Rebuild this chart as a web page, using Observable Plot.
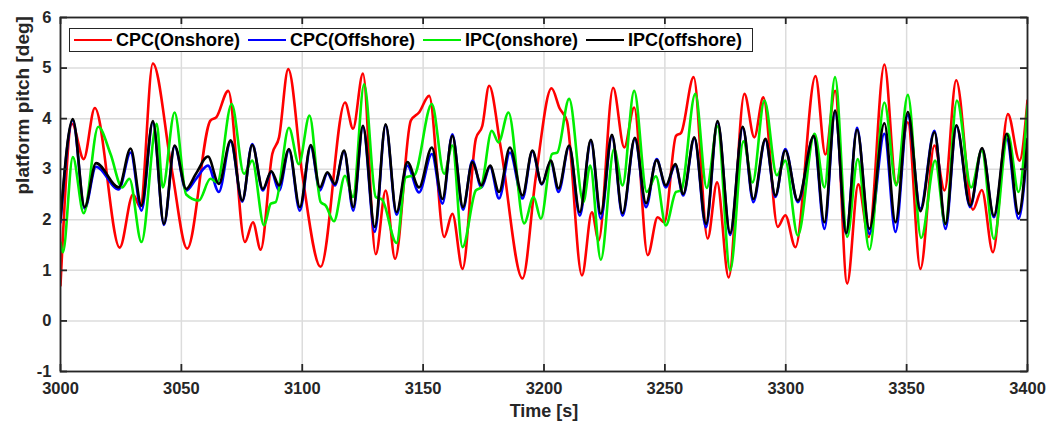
<!DOCTYPE html>
<html>
<head>
<meta charset="utf-8">
<script src="https://cdn.jsdelivr.net/npm/d3@7"></script>
<script src="https://cdn.jsdelivr.net/npm/@observablehq/plot@0.6"></script>
<style>
  html, body { margin: 0; padding: 0; background: #fff; }
  #wrap { position: relative; width: 1061px; height: 421px; font-family: "Liberation Sans", Arial, sans-serif; }
  #legend { position: absolute; left: 69px; top: 28px; height: 22px; border: 1.5px solid #262626; background: #fff;
    display: flex; align-items: center; padding-left: 4px; padding-right: 2px; font-weight: bold; font-size: 18px; color: #000; white-space: nowrap; }
  #legend .item { display: flex; align-items: center; margin-right: 8px; }
  #legend .sw { width: 38px; height: 0; border-top: 2.5px solid; margin-right: 4px; }
</style>
</head>
<body>
<div id="wrap"></div>
<script>
const xTicks = [3000, 3050, 3100, 3150, 3200, 3250, 3300, 3350, 3400];
const yTicks = [-1, 0, 1, 2, 3, 4, 5, 6];
const seriesNames = ["CPC(Onshore)", "CPC(Offshore)", "IPC(onshore)", "IPC(offshore)"];
const seriesColors = ["#ff0000", "#0000ff", "#00ee00", "#000000"];

// CPC(Onshore) - red
const redT = [3000.0,3004.8,3009.6,3014.2,3024.5,3030.0,3033.0,3038.2,3046.0,3052.4,3062.0,3064.5,3069.4,3076.3,3079.6,3082.8,3087.6,3090.4,3094.2,3100.0,3107.6,3117.7,3121.0,3125.1,3130.4,3134.5,3138.4,3144.9,3148.3,3152.5,3158.7,3162.1,3166.3,3171.8,3174.5,3177.3,3182.1,3191.1,3196.6,3203.1,3206.5,3209.5,3215.7,3219.8,3222.6,3228.6,3233.2,3237.3,3242.9,3247.0,3249.8,3254.6,3256.7,3261.9,3267.7,3271.6,3276.4,3282.9,3287.0,3290.7,3296.7,3299.8,3304.0,3312.3,3316.4,3320.4,3325.4,3330.0,3334.3,3340.8,3345.7,3350.5,3355.7,3361.5,3365.7,3370.5,3377.4,3381.1,3385.7,3391.9,3396.7,3400.0];
const redV = [0.70,3.90,3.20,4.21,1.45,2.50,2.25,5.09,3.00,1.43,3.96,4.03,4.55,1.56,1.95,1.41,3.30,3.63,4.98,2.90,1.07,4.32,3.80,4.89,1.32,2.58,1.23,3.96,4.12,4.45,1.66,2.12,1.03,3.60,3.86,4.65,3.43,0.84,2.84,4.60,4.20,3.95,0.90,2.15,1.59,4.61,3.43,4.22,1.30,2.05,1.95,3.66,3.72,4.82,1.63,2.74,0.86,4.49,3.63,4.42,1.86,2.09,1.46,4.84,3.29,4.55,0.74,2.70,1.66,5.07,2.71,3.93,1.03,3.47,2.58,4.76,2.20,2.59,1.36,4.09,3.17,4.36];

// IPC(offshore) - black, and CPC(Offshore) - blue (same sample times)
const blackT = [3000.0,3005.1,3010.0,3014.7,3024.1,3029.0,3033.5,3038.2,3042.8,3047.2,3052.0,3055.9,3061.0,3065.5,3070.4,3075.2,3079.3,3083.7,3087.2,3090.4,3094.5,3099.0,3103.5,3107.3,3110.4,3113.5,3117.3,3121.1,3125.1,3130.0,3134.5,3139.0,3143.5,3148.3,3153.6,3158.0,3162.1,3166.5,3170.4,3174.1,3177.7,3181.4,3185.9,3191.1,3195.2,3199.1,3202.8,3206.0,3210.4,3214.8,3219.4,3223.5,3228.1,3232.5,3237.6,3242.2,3246.6,3250.4,3254.3,3257.6,3262.2,3267.0,3271.8,3277.0,3282.2,3286.6,3291.6,3295.7,3299.8,3305.0,3311.6,3316.0,3320.4,3325.0,3329.5,3334.6,3340.8,3345.4,3350.5,3355.7,3361.5,3366.1,3370.6,3376.3,3381.2,3386.1,3391.4,3396.3,3400.0];
const blackV = [2.02,3.99,2.25,3.12,2.64,3.41,2.28,3.95,1.92,3.47,2.61,2.90,3.25,2.71,3.57,2.38,3.48,2.61,2.96,2.68,3.40,2.25,3.48,2.64,2.94,2.71,3.37,2.25,3.86,1.86,3.89,2.15,3.14,2.64,3.43,2.41,3.66,2.25,3.14,2.68,3.07,2.55,3.43,2.48,3.37,2.71,3.17,2.62,3.47,2.15,3.58,2.12,3.68,2.13,3.62,2.33,3.18,2.68,3.10,2.51,3.63,1.92,3.95,1.74,3.84,2.41,3.60,2.48,3.37,2.38,3.66,1.95,4.16,1.74,3.78,1.82,3.91,1.95,4.13,2.17,3.73,1.92,3.87,2.28,3.42,2.08,3.70,2.12,3.60];
const blueV = [1.95,3.97,2.22,3.05,2.60,3.33,2.18,3.93,1.90,3.45,2.58,2.80,3.07,2.55,3.55,2.36,3.50,2.58,2.95,2.58,3.38,2.18,3.45,2.58,2.92,2.68,3.35,2.18,3.84,1.76,3.87,2.10,3.07,2.54,3.30,2.32,3.69,2.20,3.17,2.64,3.05,2.42,3.33,2.42,3.35,2.70,3.15,2.55,3.45,2.08,3.56,2.02,3.66,2.08,3.60,2.25,3.20,2.64,3.08,2.48,3.61,1.85,3.93,1.70,3.82,2.35,3.58,2.45,3.40,2.35,3.64,1.82,4.14,1.72,3.82,1.72,3.70,1.76,4.07,2.22,3.76,1.82,3.85,2.25,3.40,2.05,3.60,2.02,3.50];

// IPC(onshore) - green
const greenT = [3000.0,3001.0,3005.1,3009.6,3015.6,3020.7,3025.5,3028.5,3033.5,3039.8,3042.3,3047.2,3052.0,3057.2,3062.0,3064.8,3070.8,3075.9,3079.3,3084.2,3087.0,3089.0,3094.5,3098.6,3103.0,3107.6,3109.7,3113.1,3117.7,3121.0,3125.6,3130.4,3133.0,3139.0,3142.8,3146.3,3153.6,3158.7,3162.1,3166.3,3171.8,3173.9,3178.4,3181.2,3185.3,3191.8,3195.7,3198.7,3203.3,3205.5,3210.4,3216.3,3219.1,3223.5,3229.0,3232.5,3237.3,3242.5,3246.3,3250.4,3254.6,3256.7,3262.6,3267.3,3271.8,3277.0,3282.5,3286.3,3291.2,3296.3,3299.8,3305.0,3311.9,3316.0,3320.4,3325.4,3329.8,3334.6,3340.8,3345.7,3350.5,3356.0,3361.8,3366.0,3370.8,3376.7,3381.1,3386.1,3391.9,3396.3,3400.0];
const greenV = [1.55,1.36,3.24,2.13,3.84,3.30,2.64,2.81,1.56,3.90,2.64,4.12,2.50,2.38,2.81,2.74,4.29,2.91,3.17,1.89,2.32,2.35,3.82,3.10,4.06,2.35,2.28,1.97,2.87,2.45,4.68,2.45,2.40,1.54,2.84,2.88,4.29,2.91,3.47,1.46,2.58,2.64,3.76,3.53,4.12,1.93,2.45,2.02,3.30,3.33,4.39,2.35,3.07,1.21,3.40,2.68,4.55,2.55,2.86,1.89,2.55,2.58,4.49,2.63,3.85,1.00,3.55,2.74,4.36,2.88,3.17,1.69,3.70,2.64,4.82,1.66,3.20,1.41,4.32,2.68,4.47,1.64,3.17,1.92,4.36,2.64,3.37,1.62,3.70,2.55,4.26];

const toRows = (T, V) => T.map((t, i) => ({t, v: V[i]}));
const red = toRows(redT, redV);
const blue = toRows(blackT, blueV);
const green = toRows(greenT, greenV);
const black = toRows(blackT, blackV);
const seriesData = [red, blue, green, black];

const W = 1061, H = 421, mL = 60, mR = 34, mT = 17, mB = 50;
const innerW = W - mL - mR, innerH = H - mT - mB;
const axisColor = "#262626";
const fmt = d => String(d);

const lineMarks = seriesData.map((data, i) =>
  Plot.line(data, {x: "t", y: "v", stroke: seriesColors[i], strokeWidth: 2.6, curve: "monotone-x", clip: true})
);

const chart = Plot.plot({
  width: W, height: H,
  marginLeft: mL, marginRight: mR, marginTop: mT, marginBottom: mB,
  x: {domain: [3000, 3400]},
  y: {domain: [-1, 6]},
  style: {fontFamily: "'Liberation Sans', Arial, sans-serif", fontWeight: "bold", fontSize: "16px", color: "#262626", background: "#fff"},
  marks: [
    Plot.gridX({ticks: xTicks, stroke: "#dcdcdc", strokeOpacity: 1, strokeWidth: 1.5}),
    Plot.gridY({ticks: yTicks, stroke: "#dcdcdc", strokeOpacity: 1, strokeWidth: 1.5}),
    ...lineMarks,
    Plot.frame({stroke: axisColor, strokeWidth: 1.8}),
    Plot.tickX(xTicks, {x: d => d, insetTop: innerH - 7, stroke: axisColor, strokeWidth: 1.8}),
    Plot.tickX(xTicks, {x: d => d, insetBottom: innerH - 7, stroke: axisColor, strokeWidth: 1.8}),
    Plot.tickY(yTicks, {y: d => d, insetRight: innerW - 7, stroke: axisColor, strokeWidth: 1.8}),
    Plot.tickY(yTicks, {y: d => d, insetLeft: innerW - 7, stroke: axisColor, strokeWidth: 1.8}),
    Plot.axisX({ticks: xTicks, tickSize: 0, tickPadding: 11, tickFormat: fmt, label: null, fontSize: 16.5, fontWeight: "bold", fill: axisColor}),
    Plot.axisY({ticks: yTicks, tickSize: 0, tickPadding: 9, tickFormat: fmt, label: null, fontSize: 16.5, fontWeight: "bold", fill: axisColor}),
    Plot.text(["Time [s]"], {frameAnchor: "bottom", lineAnchor: "middle", dy: 40, fontSize: 18, fontWeight: "bold", fill: axisColor}),
    Plot.text(["platform pitch [deg]"], {frameAnchor: "left", lineAnchor: "middle", dx: -38, rotate: -90, fontSize: 19, fontWeight: "bold", fill: axisColor})
  ]
});

const wrap = document.getElementById("wrap");
wrap.appendChild(chart);

const legend = document.createElement("div");
legend.id = "legend";
seriesNames.forEach((name, i) => {
  const item = document.createElement("div");
  item.className = "item";
  const sw = document.createElement("span");
  sw.className = "sw";
  sw.style.borderTopColor = seriesColors[i];
  const label = document.createElement("span");
  label.textContent = name;
  item.appendChild(sw);
  item.appendChild(label);
  legend.appendChild(item);
});
wrap.appendChild(legend);
</script>
</body>
</html>
